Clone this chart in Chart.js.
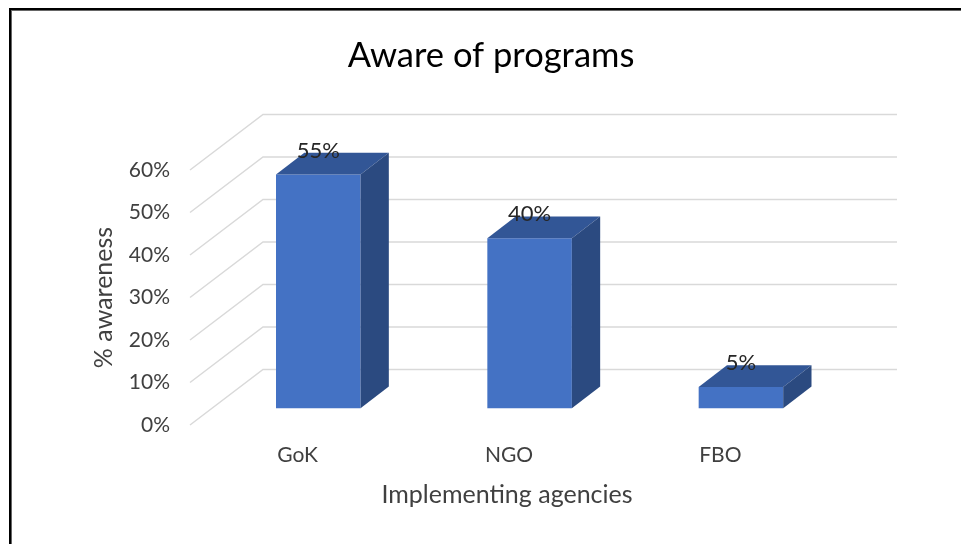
<!DOCTYPE html>
<html>
<head>
<meta charset="utf-8">
<title>Aware of programs</title>
<script src="https://cdn.jsdelivr.net/npm/chart.js@4"></script>
<style>
  html, body { margin: 0; padding: 0; background: #fff; overflow: hidden; }
  #wrap { position: relative; width: 961px; height: 544px; overflow: hidden; }
  #frame { position: absolute; left: 9px; top: 8px; width: 2000px; height: 2000px;
           border-left: 2px solid #000; border-top: 2px solid #000; box-shadow: inset 1px 1px 0 #666; }
  canvas { position: absolute; left: 0; top: 0; }
</style>
</head>
<body>
<div id="wrap">
  <div id="frame"></div>
  <canvas id="myChart" width="961" height="544"></canvas>
</div>
<script>
var categories = ["GoK", "NGO", "FBO"];
var awareness = [55, 40, 5];
var tickStep = 10;
var axisMax = 60;

var fontName = "Lato, 'Open Sans', sans-serif";

// fake 3D: back wall offset, and how far the bars sit behind the front plane
var wallDx = 73, wallDy = 55.5;
var barShiftX = 22.6, barShiftY = 16.8;
var depthDx = 28.3, depthDy = 21.7;

var threeD = {
  id: "threeD",
  afterLayout: function (chart) {
    // title sits a bit right of the page centre
    chart.titleBlock.left += 79;
    chart.titleBlock.right += 79;
  },
  beforeDatasetsDraw: function (chart) {
    var ctx = chart.ctx;
    var y = chart.scales.y, area = chart.chartArea;
    ctx.save();
    ctx.strokeStyle = "#d9d9d9";
    ctx.lineWidth = 1.5;
    y.ticks.forEach(function (t) {
      var py = y.getPixelForValue(t.value);
      ctx.beginPath();
      ctx.moveTo(area.left, py);
      ctx.lineTo(area.left + wallDx, py - wallDy);
      ctx.lineTo(area.right + wallDx, py - wallDy);
      ctx.stroke();
    });
    ctx.restore();
    ctx.save();
    ctx.translate(barShiftX, -barShiftY);
  },
  afterDatasetsDraw: function (chart) {
    var ctx = chart.ctx;
    chart.getDatasetMeta(0).data.forEach(function (bar, i) {
      var l = bar.x - bar.width / 2, r = bar.x + bar.width / 2;
      // top face
      ctx.fillStyle = "#325696";
      ctx.beginPath();
      ctx.moveTo(l, bar.y);
      ctx.lineTo(l + depthDx, bar.y - depthDy);
      ctx.lineTo(r + depthDx, bar.y - depthDy);
      ctx.lineTo(r, bar.y);
      ctx.closePath();
      ctx.fill();
      // side face
      ctx.fillStyle = "#2b4a80";
      ctx.beginPath();
      ctx.moveTo(r, bar.y);
      ctx.lineTo(r + depthDx, bar.y - depthDy);
      ctx.lineTo(r + depthDx, bar.base - depthDy);
      ctx.lineTo(r, bar.base);
      ctx.closePath();
      ctx.fill();
      // value label
      ctx.fillStyle = "#262626";
      ctx.font = "22px " + fontName;
      ctx.textAlign = "center";
      ctx.textBaseline = "middle";
      ctx.fillText(awareness[i] + "%", bar.x, bar.y - 24);
    });
    ctx.restore();
  },
};

new Chart(document.getElementById("myChart").getContext("2d"), {
  type: "bar",
  data: {
    labels: categories,
    datasets: [
      {
        data: awareness,
        backgroundColor: "#4472c4",
        borderWidth: 0,
        barPercentage: 0.4,
        categoryPercentage: 1,
        clip: false,
      },
    ],
  },
  plugins: [threeD],
  options: {
    responsive: false,
    animation: false,
    layout: { padding: { left: 0, right: 137, top: 0, bottom: 0 } },
    plugins: {
      legend: { display: false },
      tooltip: { enabled: false },
      title: {
        display: true,
        text: "Aware of programs",
        color: "#000",
        font: { family: fontName, size: 34.5, weight: "normal", lineHeight: 1.2 },
        padding: { top: 35, bottom: 93.6 },
      },
    },
    scales: {
      x: {
        grid: { display: false, drawTicks: false },
        border: { display: false },
        afterFit: function (scale) { scale.height = 119; },
        ticks: { color: "#404040", font: { family: fontName, size: 21 }, padding: 18, maxRotation: 0, labelOffset: 2 },
        title: {
          display: true,
          text: "Implementing agencies",
          color: "#404040",
          font: { family: fontName, size: 25, lineHeight: 1.2 },
          padding: { top: 0, bottom: 34 },
        },
      },
      y: {
        min: 0,
        max: axisMax,
        afterFit: function (scale) { scale.width = 190; },
        grid: { display: false, drawTicks: false },
        border: { display: false },
        ticks: {
          stepSize: tickStep,
          color: "#404040",
          font: { family: fontName, size: 21 },
          padding: 20,
          callback: function (v) { return v + "%"; },
        },
        title: {
          display: true,
          text: "% awareness",
          color: "#404040",
          font: { family: fontName, size: 25, lineHeight: 1.2 },
          padding: { top: 89, bottom: 0 },
        },
      },
    },
  },
});
</script>
</body>
</html>
